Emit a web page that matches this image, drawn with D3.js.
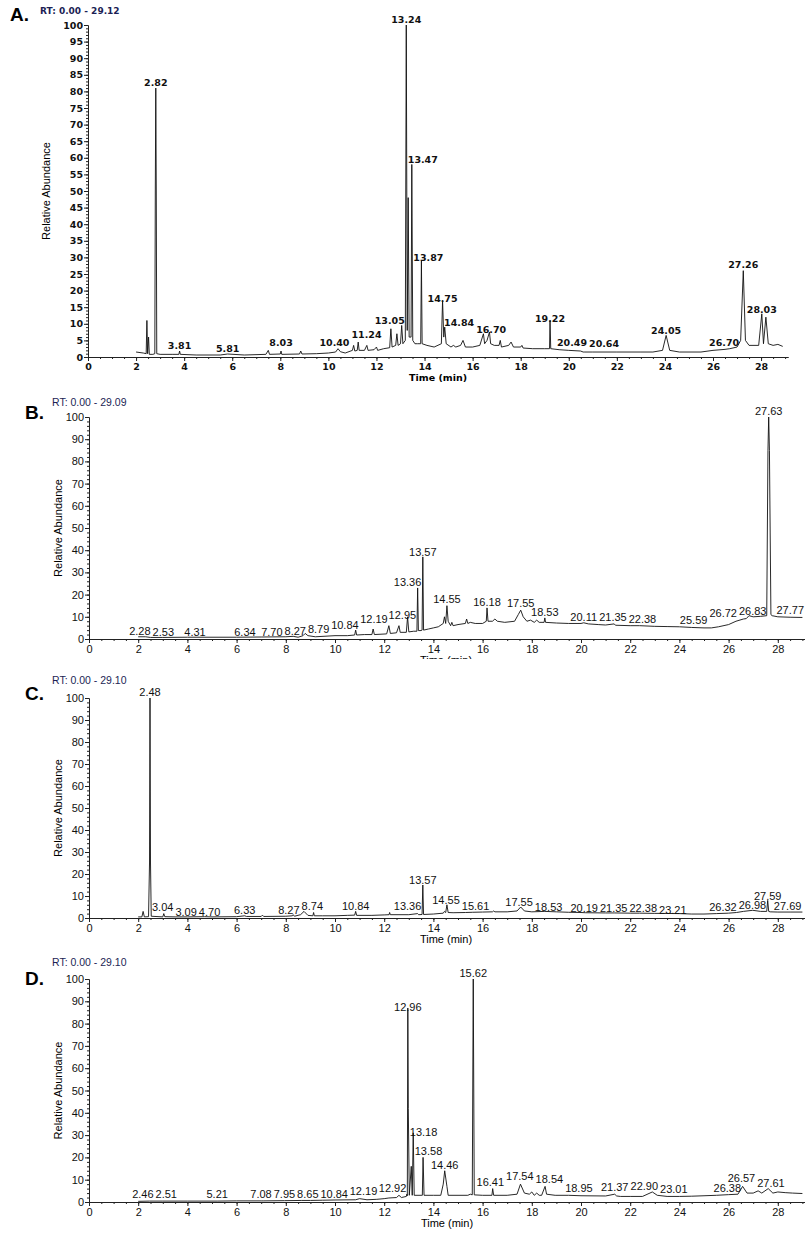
<!DOCTYPE html>
<html>
<head>
<meta charset="utf-8">
<script src="https://cdn.jsdelivr.net/npm/d3@7"></script>
<style>
  body { margin: 0; background: #fff; }
  svg { display: block; }
</style>
</head>
<body>
<div id="chart"></div>
<script>
// retention time ticks and abundance ticks
var xTicks = [0, 2, 4, 6, 8, 10, 12, 14, 16, 18, 20, 22, 24, 26, 28];
var yTicksA = [0, 5, 10, 15, 20, 25, 30, 35, 40, 45, 50, 55, 60, 65, 70, 75, 80, 85, 90, 95, 100];
var yTicksBCD = [0, 10, 20, 30, 40, 50, 60, 70, 80, 90, 100];

// chromatogram A: [time, relative abundance]
var traceA = [[2.0,1.5],[2.3,1.2],[2.42,1.0],[2.45,11],[2.48,1],[2.52,6],[2.55,0.8],[2.7,0.8],[2.78,1],[2.8,50],[2.82,81],[2.84,50],[2.86,1],
  [3.0,0.8],[3.5,0.8],[3.78,0.8],[3.81,1.8],[3.84,0.8],[4.5,0.6],[5.5,0.6],[5.81,0.9],[6.5,0.6],[7.4,0.8],[7.5,2],[7.55,0.8],
  [8.0,0.9],[8.03,1.8],[8.06,0.8],[8.8,0.9],[8.85,1.8],[8.9,0.9],[9.5,1],[10.0,1.2],[10.3,1.5],[10.4,2.5],[10.5,1.6],[10.7,1.2],
  [11.0,2],[11.05,3.5],[11.1,1.8],[11.2,2],[11.24,4.5],[11.28,2],[11.5,2],[11.6,3.5],[11.65,2],[11.9,2.2],[12.0,3],[12.05,2],
  [12.3,2.5],[12.55,2.8],[12.6,8.5],[12.65,3],[12.8,3.5],[12.85,7],[12.9,3.5],[13.0,4],[13.05,9.5],[13.1,4],[13.2,5],[13.24,100],
  [13.28,8],[13.32,48],[13.36,6],[13.44,6],[13.47,58],[13.51,5],[13.6,4],[13.7,4],[13.84,4],[13.87,29],[13.9,4],[14.1,3.5],
  [14.4,3],[14.7,4],[14.75,17],[14.8,6],[14.84,9],[14.9,4],[15.1,3],[15.2,3.5],[15.3,3],[15.5,3.5],[15.6,5],[15.7,3],[16.0,3],
  [16.3,3.5],[16.45,7],[16.5,4],[16.6,5],[16.7,7.5],[16.75,4],[16.9,3.5],[17.1,3.5],[17.15,5],[17.2,3],[17.5,3.5],[17.6,4.5],
  [17.7,3],[18.0,3],[18.05,3.5],[18.1,2.7],[18.5,2.5],[19.0,2.5],[19.2,2.5],[19.22,11],[19.25,2.5],[19.6,2.2],[20.0,2],
  [20.49,1.8],[20.6,1.5],[20.64,1.5],[21.0,1.5],[22.0,1.5],[23.0,1.5],[23.5,1.5],[23.9,2],[24.05,6.5],[24.2,2],[24.6,1.5],
  [25.5,1.5],[26.0,2],[26.5,2.3],[26.7,2.5],[27.0,3],[27.15,5],[27.26,26],[27.35,5],[27.5,3.5],[27.9,3.5],[28.03,13],[28.1,4],
  [28.2,12],[28.3,4],[28.5,3.5],[28.7,3.8],[28.9,3.2]];
// peak labels A: [text, time, height]
var labelsA = [["2.82",2.82,81],["3.81",3.81,1.9],["5.81",5.81,0.9],["8.03",8.03,2.6],["10.40",10.40,2.6],["11.24",11.24,5.1],
  ["13.05",13.05,9.3],["13.24",13.24,100],["13.47",13.47,57.7],["13.87",13.87,28.2],["14.75",14.75,16],["14.84",14.84,8.6],
  ["16.70",16.70,6.6],["19.22",19.22,9.8],["20.49",20.49,2.6],["20.64",20.64,2.3],["24.05",24.05,6.2],["26.70",26.70,2.6],
  ["27.26",27.26,26.2],["28.03",28.03,12.6]];

// chromatogram B
var traceB = [[2.0,1],[2.3,1],[2.5,0.7],[3,0.7],[4,0.8],[5,0.8],[6,0.8],[7,0.9],[8,1],[8.3,1.2],[8.5,0.8],[8.7,1.5],[8.79,2.5],
  [8.9,1.5],[9.2,1],[10,1.5],[10.5,1.5],[10.8,1.8],[10.84,4],[10.88,1.8],[11.2,2],[11.5,2],[11.55,4.5],[11.6,2],[12.1,2.3],
  [12.19,6],[12.25,2.5],[12.5,2.8],[12.6,6],[12.65,3],[12.9,3],[12.95,10],[13.0,3.2],[13.2,3.5],[13.33,3.5],[13.36,23],
  [13.39,3.8],[13.5,3.8],[13.54,4],[13.57,37],[13.6,4],[13.8,4.5],[14.0,5],[14.2,5.5],[14.4,7],[14.45,10],[14.5,7],[14.55,15],
  [14.6,8],[14.7,6],[14.75,7.5],[14.8,6],[15.0,6.5],[15.3,7],[15.35,9],[15.4,7],[15.5,7.5],[15.7,7],[16.0,7],[16.15,8],
  [16.18,14],[16.22,8],[16.4,8],[16.5,9],[16.6,8],[16.9,7.5],[17.3,8],[17.45,11],[17.55,13],[17.65,10],[17.8,8],[17.95,8.5],
  [18.1,7.5],[18.2,8.5],[18.3,7.5],[18.5,7.5],[18.53,9.5],[18.56,7.5],[19,7.2],[19.5,7],[20,7],[20.11,7.3],[20.3,6.8],
  [20.7,6.5],[21,6.3],[21.35,6.8],[21.4,6.2],[22,6],[22.38,6],[23,5.7],[23.5,5.6],[24,5.5],[24.5,5.2],[25,5],[25.3,5],
  [25.59,5.5],[26,6.5],[26.3,8],[26.6,9],[26.72,9.2],[26.83,10.5],[27,10],[27.3,10.2],[27.55,10.5],[27.6,85],[27.63,100],
  [27.66,85],[27.72,11],[27.77,10.5],[28,10],[28.5,9.8],[29,9.7]];
var labelsB = [["2.28",2.28,0.8],["2.53",2.53,0.5],["4.31",4.31,0.5],["6.34",6.34,0.5],["7.70",7.70,0.5],["8.27",8.27,1.1],
  ["8.79",8.79,2.0],["10.84",10.84,3.4],["12.19",12.19,6.1],["12.95",12.95,8.0],["13.36",13.36,23],["13.57",13.57,36.5],
  ["14.55",14.55,15.1],["16.18",16.18,13.9],["17.55",17.55,13.7],["18.53",18.53,9.3],["20.11",20.11,7.4],["21.35",21.35,7.1],
  ["22.38",22.38,6.5],["25.59",25.59,5.8],["26.72",26.72,8.8],["26.83",26.83,9.7],["27.63",27.63,100],["27.77",27.77,10.3]];

// chromatogram C
var traceC = [[2.0,0.5],[2.15,0.5],[2.2,3],[2.25,0.5],[2.42,0.6],[2.46,25],[2.48,100],[2.5,25],[2.53,0.8],[3.0,0.5],[3.04,2],
  [3.08,0.6],[3.5,0.5],[4,0.5],[4.7,0.6],[5,0.5],[6,0.6],[6.33,1],[6.4,0.7],[7,0.7],[7.05,1.3],[7.1,0.7],[8,0.8],[8.27,1],
  [8.3,1.5],[8.35,0.8],[8.6,1.5],[8.74,3],[8.9,1.2],[9.1,1],[9.13,2.5],[9.16,1],[9.5,1],[10,1],[10.5,1.2],[10.8,1.3],
  [10.84,3],[10.88,1.2],[11.5,1.2],[12,1.4],[12.2,1.5],[12.22,2.5],[12.25,1.5],[13,1.5],[13.36,2],[13.4,1.5],[13.54,1.6],
  [13.57,15],[13.6,1.6],[14,1.8],[14.4,2.2],[14.45,3],[14.5,2.5],[14.55,6],[14.6,2.5],[14.8,2.4],[15.3,2.5],[15.6,2.6],
  [16,2.7],[16.4,2.8],[16.45,3.2],[16.5,2.8],[17,2.8],[17.4,3.2],[17.55,5],[17.7,3.2],[18,2.8],[18.53,3],[19,2.8],[19.5,2.6],
  [20,2.5],[20.19,2.4],[21,2.3],[21.35,2.3],[22,2.2],[22.38,2.2],[23,2.1],[23.21,2.1],[24,2],[24.5,1.8],[25,1.8],[25.5,2],
  [26,2.2],[26.32,2.5],[26.6,3],[26.98,3.5],[27.3,3],[27.55,3],[27.59,8],[27.63,3],[27.69,2.8],[28,2.7],[28.5,2.7],[29,2.7]];
var labelsC = [["2.48",2.48,100],["3.04",3.04,2.2],["3.09",3.09,0],["4.70",4.70,0],["6.33",6.33,0.7],["8.27",8.27,0.7],
  ["8.74",8.74,2.6],["10.84",10.84,2.6],["13.36",13.36,2.6],["13.57",13.57,14.5],["14.55",14.55,5.4],["15.61",15.61,2.6],
  ["17.55",17.55,4.5],["18.53",18.53,2.2],["20.19",20.19,1.9],["21.35",21.35,1.9],["22.38",22.38,1.6],["23.21",23.21,1.1],
  ["26.32",26.32,2.2],["26.98",26.98,3],["27.59",27.59,7.5],["27.69",27.69,2.6]];

// chromatogram D
var traceD = [[2.0,0.3],[2.46,0.4],[3,0.4],[4,0.4],[5,0.4],[5.21,0.4],[6,0.5],[7,0.5],[7.08,0.5],[7.95,0.6],[8.65,0.7],
  [9,0.7],[9.5,0.8],[10,0.9],[10.84,1],[11.0,1.5],[11.3,1],[11.7,1.2],[12,1.5],[12.19,1.8],[12.5,2],[12.6,3],[12.7,2],
  [12.9,2.5],[12.92,3.5],[12.94,2.8],[12.96,87],[12.98,42],[13.02,3],[13.1,16],[13.14,3],[13.18,31],[13.22,3],[13.5,3],
  [13.55,3],[13.58,20],[13.62,3],[14.0,3],[14.3,3],[14.4,8],[14.46,14],[14.55,7],[14.6,3],[15.0,3],[15.4,3],[15.5,3.5],
  [15.58,3.2],[15.62,100],[15.66,3.2],[16.0,3],[16.38,3],[16.41,6],[16.45,3],[17.0,3],[17.4,3.5],[17.54,8],[17.7,4],
  [17.9,3.5],[18.0,4.5],[18.1,3],[18.2,4],[18.3,3],[18.4,3],[18.54,7],[18.6,3.5],[18.95,3],[19.5,3],[20,2.8],[21,2.7],
  [21.37,3.5],[21.45,2.7],[21.6,2.5],[22,2.5],[22.5,2.5],[22.9,4.5],[23.1,3],[23.5,2.5],[24,2.5],[24.5,2.6],[25,2.8],
  [25.5,3],[26,3.3],[26.38,3.5],[26.57,7],[26.75,4],[27,4],[27.2,5],[27.35,4],[27.61,6],[27.8,4],[28,4.5],[28.3,4.2],
  [28.6,4],[29,3.8]];
var labelsD = [["2.46",2.46,1],["2.51",2.51,0.7],["5.21",5.21,0.7],["7.08",7.08,0.7],["7.95",7.95,0.7],["8.65",8.65,1],
  ["10.84",10.84,1],["12.19",12.19,2.2],["12.92",12.92,3.7],["12.96",12.96,84.7],["13.18",13.18,28.9],["13.58",13.58,20],
  ["14.46",14.46,14],["15.62",15.62,100],["16.41",16.41,6.2],["17.54",17.54,8.9],["18.54",18.54,7.7],["18.95",18.95,3.7],
  ["21.37",21.37,3.9],["22.90",22.90,4.4],["23.01",23.01,3.2],["26.38",26.38,3.7],["26.57",26.57,8.2],["27.61",27.61,5.9]];

var W = 805, H = 1239;
var svg = d3.select("#chart").append("svg").attr("width", W).attr("height", H);

var wideFont = "DejaVu Sans, Verdana, sans-serif";
var narrowFont = "'Liberation Sans Narrow', 'Arial Narrow', 'Liberation Sans', sans-serif";

var panels = [
  {letter: "A.", rt: "RT: 0.00 - 29.12", tmax: 29.12, trace: traceA, labels: labelsA, yTicks: yTicksA, yMinor: 1,
   left: 88, right: 788, bottom: 357, top: 25, font: wideFont, fs: 9.5, fw: "bold", wide: true,
   lx: 10, ly: 21, rtx: 40, rty: 14, yl: 50, tx: 438},
  {letter: "B.", rt: "RT: 0.00 - 29.09", tmax: 29.09, trace: traceB, labels: labelsB, yTicks: yTicksBCD, yMinor: 2,
   left: 89, right: 89 + 29.09 * 24.6, bottom: 639, top: 417, font: narrowFont, fs: 11, fw: "normal",
   lx: 25, ly: 419, rtx: 52, rty: 406, yl: 62, tx: 446, cut: 659},
  {letter: "C.", rt: "RT: 0.00 - 29.10", tmax: 29.10, trace: traceC, labels: labelsC, yTicks: yTicksBCD, yMinor: 2,
   left: 89, right: 89 + 29.10 * 24.6, bottom: 918, top: 698, font: narrowFont, fs: 11, fw: "normal",
   lx: 25, ly: 700, rtx: 52, rty: 684, yl: 62, tx: 446},
  {letter: "D.", rt: "RT: 0.00 - 29.10", tmax: 29.10, trace: traceD, labels: labelsD, yTicks: yTicksBCD, yMinor: 2,
   left: 89, right: 89 + 29.10 * 24.6, bottom: 1202, top: 979, font: narrowFont, fs: 11, fw: "normal",
   lx: 25, ly: 985, rtx: 52, rty: 966, yl: 62, tx: 447}
];

panels.forEach(function(p, i) {
  var g = svg.append("g");

  var x = d3.scaleLinear().domain([0, p.tmax]).range([p.left, p.right]);
  var y = d3.scaleLinear().domain([0, 100]).range([p.bottom, p.top]);

  // panel letter + RT range
  g.append("text")
    .attr("x", p.lx).attr("y", p.ly)
    .style("font-family", "'Liberation Sans', Arial, sans-serif")
    .style("font-weight", "bold").style("font-size", "19px")
    .text(p.letter);
  g.append("text")
    .attr("x", p.rtx).attr("y", p.rty)
    .style("font-family", p.font).style("font-size", p.wide ? "9px" : "10.5px")
    .style("font-weight", p.fw)
    .style("fill", "#1c1f55")
    .text(p.rt);

  // minor ticks first, then major ticks with labels
  var yMinor = d3.range(0, 100 + 0.001, p.yMinor);
  g.append("g")
    .attr("transform", "translate(" + p.left + ",0)")
    .call(d3.axisLeft(y).tickValues(yMinor).tickSize(2).tickSizeOuter(0).tickFormat(""));
  var ya = g.append("g")
    .attr("transform", "translate(" + p.left + ",0)")
    .call(d3.axisLeft(y).tickValues(p.yTicks).tickSize(4).tickSizeOuter(0).tickPadding(1));

  var xMinor = d3.range(0, p.tmax, 0.5);
  g.append("g")
    .attr("transform", "translate(0," + p.bottom + ")")
    .call(d3.axisBottom(x).tickValues(xMinor).tickSize(2).tickSizeOuter(0).tickFormat(""));
  var xa = g.append("g")
    .attr("transform", "translate(0," + p.bottom + ")")
    .call(d3.axisBottom(x).tickValues(xTicks).tickSize(4).tickSizeOuter(0).tickPadding(2));

  g.selectAll(".tick line").attr("stroke", "#222");
  g.selectAll(".domain").attr("stroke", "#222");
  [ya, xa].forEach(function(a) {
    a.selectAll("text")
      .style("font-family", p.font).style("font-size", p.fs + "px")
      .style("font-weight", p.fw)
      .style("fill", "#111");
  });

  // axis titles
  g.append("text")
    .attr("transform", "translate(" + p.yl + "," + ((p.top + p.bottom) / 2) + ") rotate(-90)")
    .attr("text-anchor", "middle")
    .style("font-family", narrowFont).style("font-size", "11px")
    .text("Relative Abundance");

  var tt = g.append("text")
    .attr("x", p.tx)
    .attr("y", p.bottom + (p.wide ? 24 : 25))
    .attr("text-anchor", "middle")
    .style("font-family", p.font).style("font-size", p.wide ? "9.5px" : "11px")
    .style("font-weight", p.fw)
    .text("Time (min)");
  if (p.cut) {
    svg.append("clipPath").attr("id", "cut" + i)
      .append("rect").attr("x", 0).attr("y", 0).attr("width", W).attr("height", p.cut);
    tt.attr("clip-path", "url(#cut" + i + ")");
  }

  // the chromatogram trace
  var line = d3.line()
    .x(function(d) { return x(d[0]); })
    .y(function(d) { return y(d[1]); });
  g.append("path")
    .datum(p.trace)
    .attr("d", line)
    .attr("fill", "none")
    .attr("stroke", "#111")
    .attr("stroke-width", 0.9)
    .attr("stroke-linejoin", "round");

  // peak labels: pushed apart from each other and off taller spikes
  var fh = p.wide ? 8.5 : 9.5;
  var spikes = p.trace.map(function(d) { return {x: x(d[0]), y: y(d[1])}; });
  var nodes = p.labels.map(function(d) {
    var t = g.append("text")
      .attr("text-anchor", "middle")
      .style("font-family", p.font).style("font-size", p.fs + "px")
      .style("font-weight", p.fw)
      .style("fill", "#111")
      .text(d[0]);
    return {t: t, ax: x(d[1]), cx: x(d[1]), by: y(d[2]) - 2, w: t.node().getComputedTextLength()};
  });
  for (var it = 0; it < 150; it++) {
    for (var a = 0; a < nodes.length; a++) {
      for (var b = a + 1; b < nodes.length; b++) {
        var na = nodes[a], nb = nodes[b];
        if (Math.abs(na.by - nb.by) >= fh) continue;
        var ov = (na.w + nb.w) / 2 + 2 - Math.abs(na.cx - nb.cx);
        if (ov > 0) {
          var lo = na.cx <= nb.cx ? na : nb, hi = lo === na ? nb : na;
          lo.cx -= ov * 0.3;
          hi.cx += ov * 0.7;
        }
      }
    }
    nodes.forEach(function(n) {
      spikes.forEach(function(s) {
        if (s.y < n.by - fh * 0.5 && Math.abs(s.x - n.cx) < n.w / 2 + 1.5) {
          n.cx = n.ax <= s.x ? s.x - n.w / 2 - 1.5 : s.x + n.w / 2 + 1.5;
        }
      });
      if (n.cx + n.w / 2 > W - 1) n.cx = W - 1 - n.w / 2;
    });
  }
  nodes.forEach(function(n) {
    n.t.attr("x", n.cx).attr("y", n.by);
  });
});
</script>
</body>
</html>
